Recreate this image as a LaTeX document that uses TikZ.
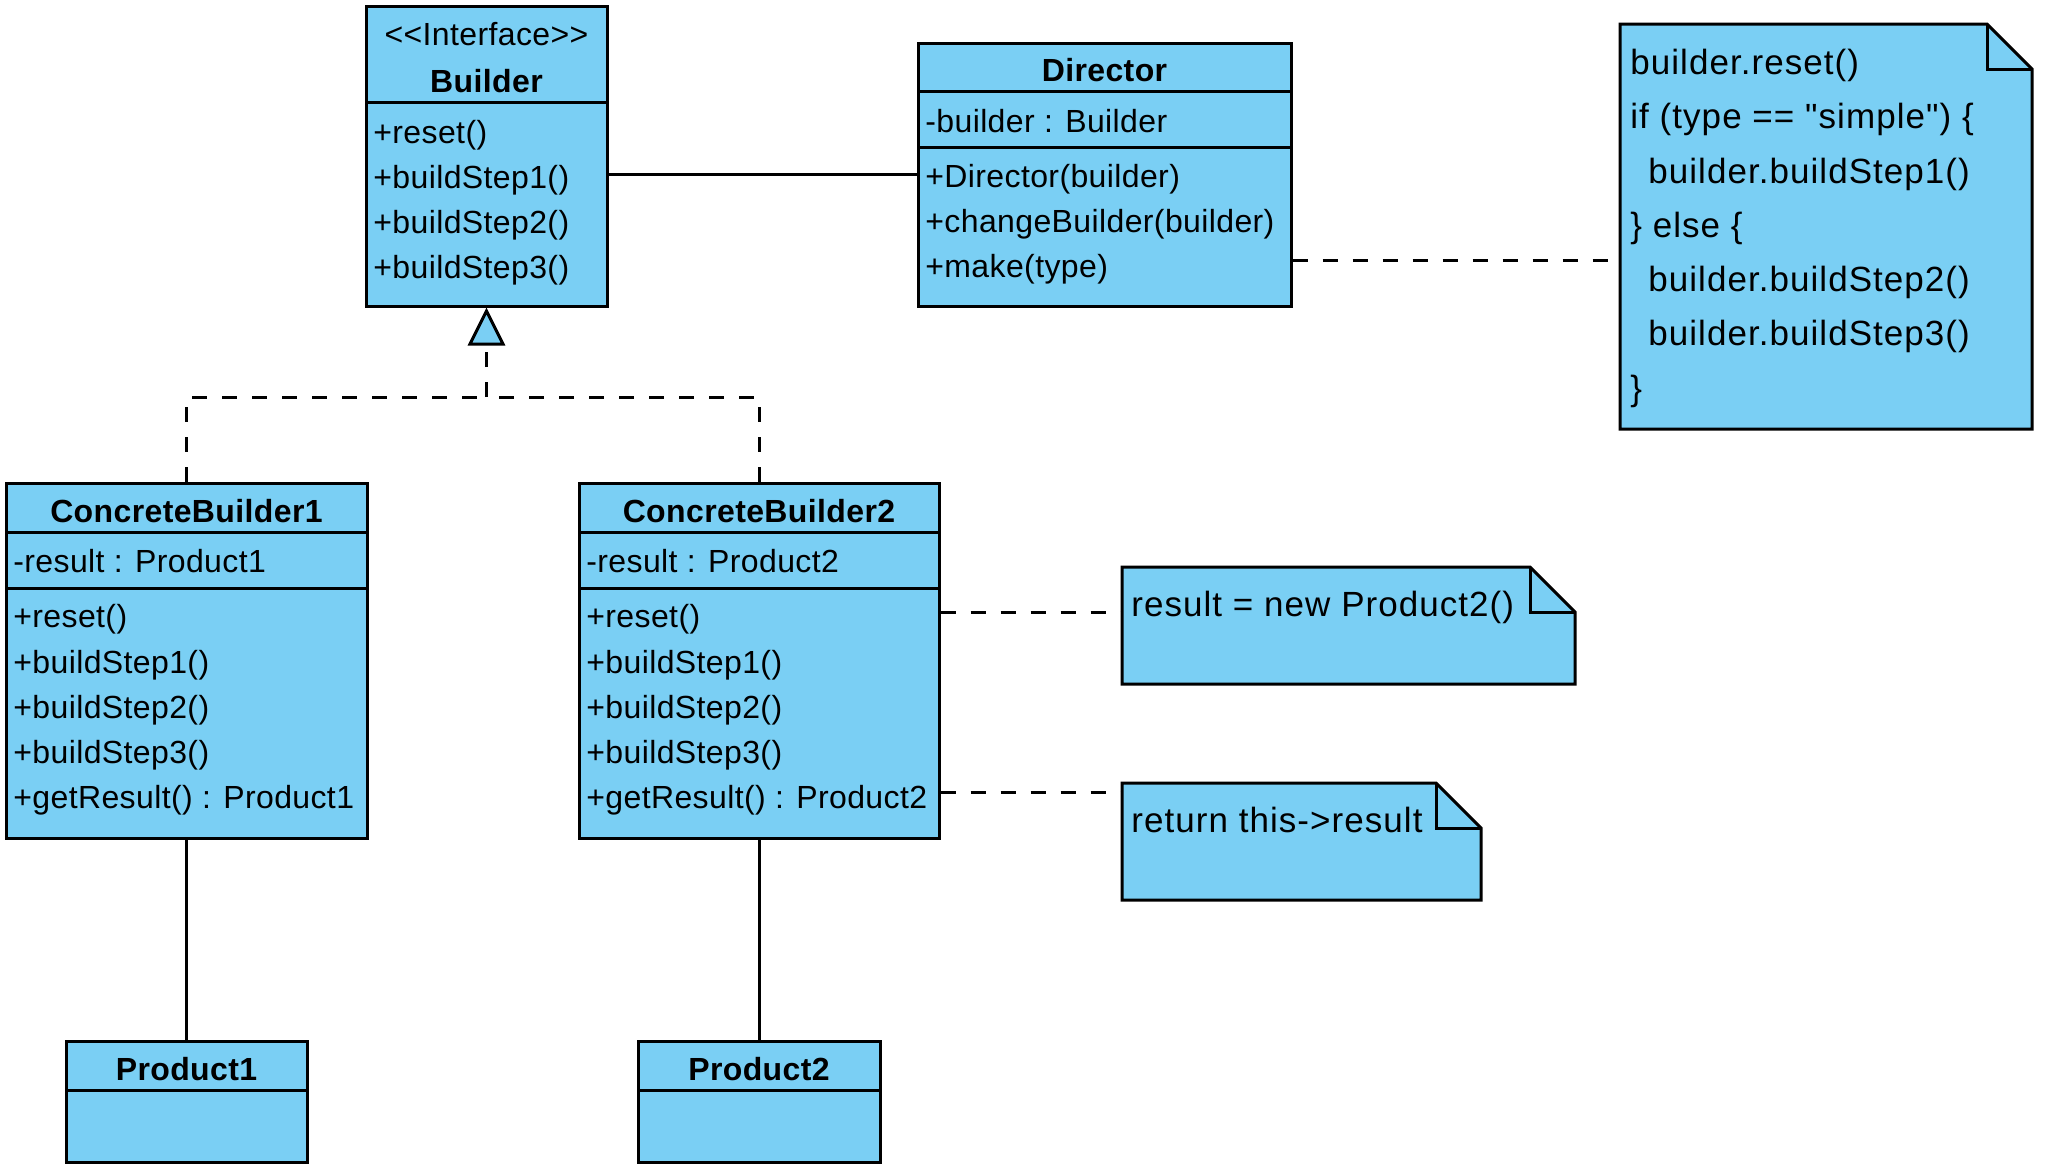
\documentclass[tikz,border=0pt]{standalone}
\usepackage{fontspec}
\setmainfont{Liberation Sans}[Ligatures=TeXOff,LetterSpace=1.2]
\newfontfamily\notefont{Liberation Sans}[Ligatures=TeXOff,LetterSpace=3]
\usetikzlibrary{fit,arrows.meta}
\definecolor{umlblue}{RGB}{122,207,244}
\newcommand\umlnote[5]{%
  \node[fit={(#2,#3) (#4,#5)}, inner sep=0pt] (#1) {};
  \filldraw[fill=umlblue, line width=1.5pt, line join=miter] (#2,#3) -- (#4-45,#3) -- (#4,#3+45) -- (#4,#5) -- (#2,#5) -- cycle;
  \draw[line width=1.5pt] (#4-45,#3) -- (#4-45,#3+45) -- (#4,#3+45);
}
\begin{document}
\begin{tikzpicture}[x=0.5pt,y=-0.5pt,
  box/.style={draw=black, fill=umlblue, line width=1.5pt, inner sep=0pt, rectangle},
  sep/.style={line width=1.5pt},
  txt/.style={font=\fontsize{16pt}{19pt}\selectfont, inner sep=0pt, anchor=base west},
  ttl/.style={font=\fontsize{16pt}{19pt}\selectfont\bfseries, inner sep=0pt, anchor=base},
  ntxt/.style={font=\notefont\fontsize{17.5pt}{21pt}\selectfont, inner sep=0pt, anchor=base west},
  conn/.style={line width=1.5pt},
  dconn/.style={line width=1.5pt, dash pattern=on 7.5pt off 7.5pt},
]
\useasboundingbox (0,0) rectangle (2046,1173);

% Builder
\node[box, fit={(366,6) (607,306)}] (builder) {};
\draw[sep] (366,102) -- (607,102);
\node[txt, anchor=base] at (486.5,45) {<<Interface>>};
\node[ttl] at (486.5,92) {Builder};
\node[txt] at (373,143) {+reset()};
\node[txt] at (373,188) {+buildStep1()};
\node[txt] at (373,233) {+buildStep2()};
\node[txt] at (373,278) {+buildStep3()};

% Director
\node[box, fit={(918,43) (1291,306)}] (director) {};
\draw[sep] (918,91) -- (1291,91);
\draw[sep] (918,147) -- (1291,147);
\node[ttl] at (1104.5,81) {Director};
\node[txt] at (925,132) {-builder : Builder};
\node[txt] at (925,187) {+Director(builder)};
\node[txt] at (925,232) {+changeBuilder(builder)};
\node[txt] at (925,277) {+make(type)};

% ConcreteBuilder1
\node[box, fit={(6,483) (367,838)}] (cb1) {};
\draw[sep] (6,532) -- (367,532);
\draw[sep] (6,588) -- (367,588);
\node[ttl] at (186.5,522) {ConcreteBuilder1};
\node[txt] at (13,572) {-result : Product1};
\node[txt] at (13,627) {+reset()};
\node[txt] at (13,673) {+buildStep1()};
\node[txt] at (13,718) {+buildStep2()};
\node[txt] at (13,763) {+buildStep3()};
\node[txt] at (13,808) {+getResult() : Product1};

% ConcreteBuilder2
\node[box, fit={(579,483) (939,838)}] (cb2) {};
\draw[sep] (579,532) -- (939,532);
\draw[sep] (579,588) -- (939,588);
\node[ttl] at (759,522) {ConcreteBuilder2};
\node[txt] at (586,572) {-result : Product2};
\node[txt] at (586,627) {+reset()};
\node[txt] at (586,673) {+buildStep1()};
\node[txt] at (586,718) {+buildStep2()};
\node[txt] at (586,763) {+buildStep3()};
\node[txt] at (586,808) {+getResult() : Product2};

% Products
\node[box, fit={(66,1041) (307,1162)}] (p1) {};
\draw[sep] (66,1090) -- (307,1090);
\node[ttl] at (186.5,1080) {Product1};
\node[box, fit={(638,1041) (880,1162)}] (p2) {};
\draw[sep] (638,1090) -- (880,1090);
\node[ttl] at (759,1080) {Product2};

% Notes
\umlnote{bignote}{1620}{24}{2032}{429}
\node[ntxt] at (1630,74) {builder.reset()};
\node[ntxt] at (1630,128) {if (type == "simple") \{};
\node[ntxt] at (1648,183) {builder.buildStep1()};
\node[ntxt] at (1630,237) {\} else \{};
\node[ntxt] at (1648,291) {builder.buildStep2()};
\node[ntxt] at (1648,345) {builder.buildStep3()};
\node[ntxt] at (1630,400) {\}};

\umlnote{note1}{1122}{567}{1575}{684}
\node[ntxt] at (1131,616) {result = new Product2()};
\umlnote{note2}{1122}{783}{1481}{900}
\node[ntxt] at (1131,832) {return this->result};

% Connectors
\draw[conn] (builder.east |- 0,174) -- (director.west |- 0,174);
\draw[dconn] (director.east |- 0,260) -- (bignote.west |- 0,260);
\coordinate (join) at (486.5,397);
\draw[dconn] (cb1.north) |- (join);
\draw[dconn] (cb2.north) |- (join);
\draw[dconn, -{Triangle[length=19pt, width=18.5pt, fill=umlblue]}] (join) -- (builder.south);
\draw[conn] (cb1.south) -- (p1.north);
\draw[conn] (cb2.south) -- (p2.north);
\draw[dconn] (cb2.east |- 0,612) -- (note1.west |- 0,612);
\draw[dconn] (cb2.east |- 0,792) -- (note2.west |- 0,792);
\end{tikzpicture}
\end{document}
